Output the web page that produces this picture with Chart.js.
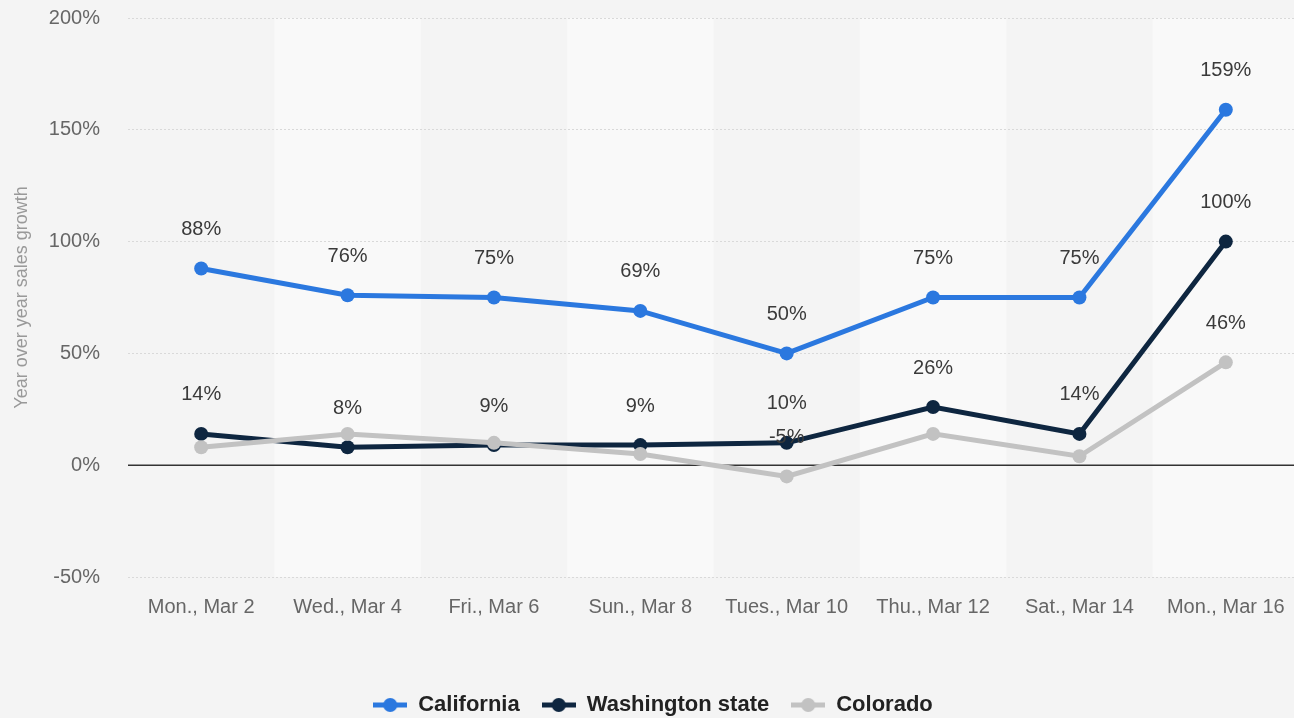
<!DOCTYPE html>
<html>
<head>
<meta charset="utf-8">
<script src="https://cdn.jsdelivr.net/npm/chart.js@4.4.1/dist/chart.umd.min.js"></script>
<style>
    html, body { margin: 0; padding: 0; background: #f4f4f4; overflow: hidden; }
    #wrap { width: 1306px; height: 726px; position: relative; }
</style>
</head>
<body>
<div id="wrap"><canvas id="salesChart"></canvas></div>
<script>
// Chart data
const categories = ['Mon., Mar 2', 'Wed., Mar 4', 'Fri., Mar 6', 'Sun., Mar 8', 'Tues., Mar 10', 'Thu., Mar 12', 'Sat., Mar 14', 'Mon., Mar 16'];
const californiaValues = [88, 76, 75, 69, 50, 75, 75, 159];
const washingtonValues = [14, 8, 9, 9, 10, 26, 14, 100];
const coloradoValues = [8, 14, 10, 5, -5, 14, 4, 46];
// Colorado labels only show where they do not collide
const coloradoLabelIndexes = [4, 7];
const yTicks = [-50, 0, 50, 100, 150, 200];

const FONT = '"Liberation Sans", Arial, sans-serif';

/**
 * Build a small legend marker: line with a dot in the middle
 */
function legendMarker(color) {
    const c = document.createElement('canvas');
    c.width = 34;
    c.height = 16;
    const ctx = c.getContext('2d');
    ctx.strokeStyle = color;
    ctx.lineWidth = 5;
    ctx.beginPath();
    ctx.moveTo(0, 8);
    ctx.lineTo(34, 8);
    ctx.stroke();
    ctx.fillStyle = color;
    ctx.beginPath();
    ctx.arc(17, 8, 7, 0, Math.PI * 2);
    ctx.fill();
    return c;
}

// Alternating column bands + solid zero line
const bandsPlugin = {
    id: 'bands',
    beforeDraw(chart) {
        const { ctx, chartArea, scales } = chart;
        const x = scales.x;
        const step = x.getPixelForValue(1) - x.getPixelForValue(0);
        ctx.save();
        ctx.fillStyle = '#f9f9f9';
        categories.forEach((_, i) => {
            if (i % 2 === 1) {
                const cx = x.getPixelForValue(i);
                ctx.fillRect(cx - step / 2, chartArea.top, step, chartArea.bottom - chartArea.top);
            }
        });
        ctx.restore();
    },
    beforeDatasetsDraw(chart) {
        const { ctx, chartArea, scales } = chart;
        const y0 = scales.y.getPixelForValue(0);
        ctx.save();
        ctx.strokeStyle = '#333333';
        ctx.lineWidth = 1.5;
        ctx.beginPath();
        ctx.moveTo(chartArea.left, y0);
        ctx.lineTo(chartArea.right, y0);
        ctx.stroke();
        ctx.restore();
    },
};

// Value labels above points
const valueLabelPlugin = {
    id: 'valueLabels',
    afterDatasetsDraw(chart) {
        const { ctx } = chart;
        ctx.save();
        ctx.font = '20px ' + FONT;
        ctx.fillStyle = '#3a3a3a';
        ctx.textAlign = 'center';
        ctx.textBaseline = 'middle';
        chart.data.datasets.forEach((ds, di) => {
            const meta = chart.getDatasetMeta(di);
            meta.data.forEach((pt, i) => {
                if (ds.labelIndexes && !ds.labelIndexes.includes(i)) return;
                ctx.fillText(ds.data[i] + '%', pt.x, pt.y - 39);
            });
        });
        ctx.restore();
    },
};

const lineStyle = (color) => ({
    borderColor: color,
    backgroundColor: color,
    pointBackgroundColor: color,
    pointBorderColor: color,
    borderWidth: 5,
    pointRadius: 7,
    pointBorderWidth: 0,
    pointHoverRadius: 7,
    tension: 0,
    pointStyle: 'circle',
});

const ctx = document.getElementById('salesChart').getContext('2d');
new Chart(ctx, {
    type: 'line',
    data: {
        labels: categories,
        datasets: [
            Object.assign({ label: 'California', data: californiaValues }, lineStyle('#2b78df')),
            Object.assign({ label: 'Washington state', data: washingtonValues }, lineStyle('#0e2640')),
            Object.assign({ label: 'Colorado', data: coloradoValues, labelIndexes: coloradoLabelIndexes }, lineStyle('#c2c2c2')),
        ].reverse(),
    },
    plugins: [bandsPlugin, valueLabelPlugin],
    options: {
        responsive: true,
        maintainAspectRatio: false,
        animation: false,
        layout: { padding: 0 },
        scales: {
            x: {
                offset: true,
                grid: { display: false, drawTicks: false },
                border: { display: false },
                ticks: {
                    padding: 18,
                    color: '#666666',
                    font: { size: 20, family: FONT },
                    maxRotation: 0,
                    autoSkip: false,
                },
                afterFit(scale) {
                    scale.height = 95;
                },
            },
            y: {
                min: -50,
                max: 200,
                afterBuildTicks(scale) {
                    scale.ticks = yTicks.map((v) => ({ value: v }));
                },
                grid: {
                    color: (c) => (c.tick && c.tick.value === 0 ? 'rgba(0,0,0,0)' : '#d9d9d9'),
                    lineWidth: 1,
                    drawTicks: false,
                },
                border: { display: false, dash: [2, 2] },
                ticks: {
                    padding: 28,
                    color: '#666666',
                    font: { size: 20, family: FONT },
                    callback: (v) => v + '%',
                },
                title: {
                    display: true,
                    text: 'Year over year sales growth',
                    color: '#999999',
                    font: { size: 18, family: FONT },
                    padding: { top: 11, bottom: 0 },
                },
                afterFit(scale) {
                    scale.width = 128;
                    // tick padding would otherwise push the plot down
                    scale.paddingTop = 18;
                    scale.paddingBottom = 12;
                },
            },
        },
        plugins: {
            legend: {
                position: 'bottom',
                reverse: true,
                labels: {
                    usePointStyle: true,
                    pointStyleWidth: 34,
                    padding: 22,
                    color: '#222222',
                    font: { size: 22, weight: 'bold', family: FONT },
                    generateLabels(chart) {
                        return chart.data.datasets.map((ds, i) => ({
                            text: ds.label,
                            pointStyle: legendMarker(ds.borderColor),
                            fillStyle: ds.borderColor,
                            strokeStyle: ds.borderColor,
                            lineWidth: 0,
                            hidden: false,
                            datasetIndex: i,
                            fontColor: '#222222',
                        }));
                    },
                },
            },
            tooltip: { enabled: false },
        },
    },
});
</script>
</body>
</html>
